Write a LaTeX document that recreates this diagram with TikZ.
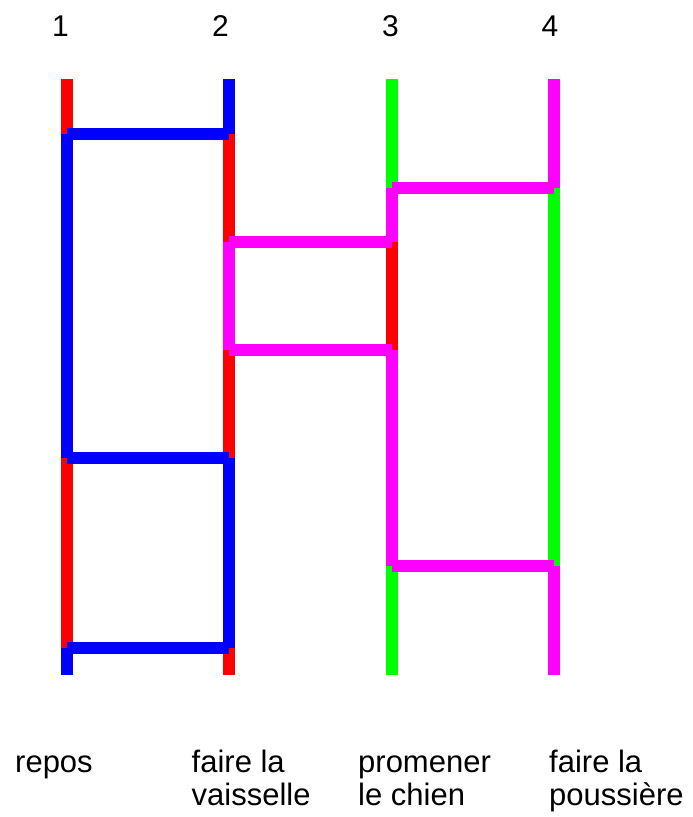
\documentclass[tikz,border=0pt]{standalone}
\usepackage{fontspec}
\setmainfont{Liberation Sans}
\definecolor{lred}{RGB}{255,0,0}
\definecolor{lblue}{RGB}{0,0,255}
\definecolor{lmag}{RGB}{255,0,255}
\definecolor{lgreen}{RGB}{0,255,0}
\begin{document}
\begin{tikzpicture}[x=1pt,y=-1pt,
  seg/.style={line width=12pt, line cap=butt},
  lbl/.style={font=\fontsize{31}{32.5}\selectfont, inner sep=0pt, anchor=base west, align=left},
  num/.style={font=\fontsize{30}{33}\selectfont, inner sep=0pt, anchor=base}]
\useasboundingbox (0,0) rectangle (693,817);
\foreach \n/\x in {1/67,2/229,3/392,4/554}{
  \foreach \y in {79,134,188,242,350,458,566,648,675}{
    \coordinate (p\n-\y) at (\x,\y);
  }
}
% line 1
\draw[seg,lred] (p1-79) -- (p1-134);
\draw[seg,lblue] (p1-134) -- (p1-458);
\draw[seg,lred] (p1-458) -- (p1-648);
\draw[seg,lblue] (p1-648) -- (p1-675);
% line 2
\draw[seg,lblue] (p2-79) -- (p2-134);
\draw[seg,lred] (p2-134) -- (p2-242);
\draw[seg,lmag] (p2-242) -- (p2-350);
\draw[seg,lred] (p2-350) -- (p2-458);
\draw[seg,lblue] (p2-458) -- (p2-648);
\draw[seg,lred] (p2-648) -- (p2-675);
% line 3
\draw[seg,lgreen] (p3-79) -- (p3-188);
\draw[seg,lmag] (p3-188) -- (p3-242);
\draw[seg,lred] (p3-242) -- (p3-350);
\draw[seg,lmag] (p3-350) -- (p3-566);
\draw[seg,lgreen] (p3-566) -- (p3-675);
% line 4
\draw[seg,lmag] (p4-79) -- (p4-188);
\draw[seg,lgreen] (p4-188) -- (p4-566);
\draw[seg,lmag] (p4-566) -- (p4-675);
% rungs
\draw[seg,lblue] (p1-134) -- (p2-134);
\draw[seg,lmag] (p3-188) -- (p4-188);
\draw[seg,lmag] (p2-242) -- (p3-242);
\draw[seg,lmag] (p2-350) -- (p3-350);
\draw[seg,lblue] (p1-458) -- (p2-458);
\draw[seg,lmag] (p3-566) -- (p4-566);
\draw[seg,lblue] (p1-648) -- (p2-648);
% numbers
\node[num] (n1) at (60.5,36) {1};
\node[num] (n2) at (220.5,36) {2};
\node[num] (n3) at (390.5,36) {3};
\node[num] (n4) at (550,36) {4};
% labels
\node[lbl] (t1) at (15,772.5) {repos};
\node[lbl] (t2) at (191.5,805) {faire la\\vaisselle};
\node[lbl] (t3) at (358,805) {promener\\le chien};
\node[lbl] (t4) at (549,805) {faire la\\poussière};
\end{tikzpicture}
\end{document}
